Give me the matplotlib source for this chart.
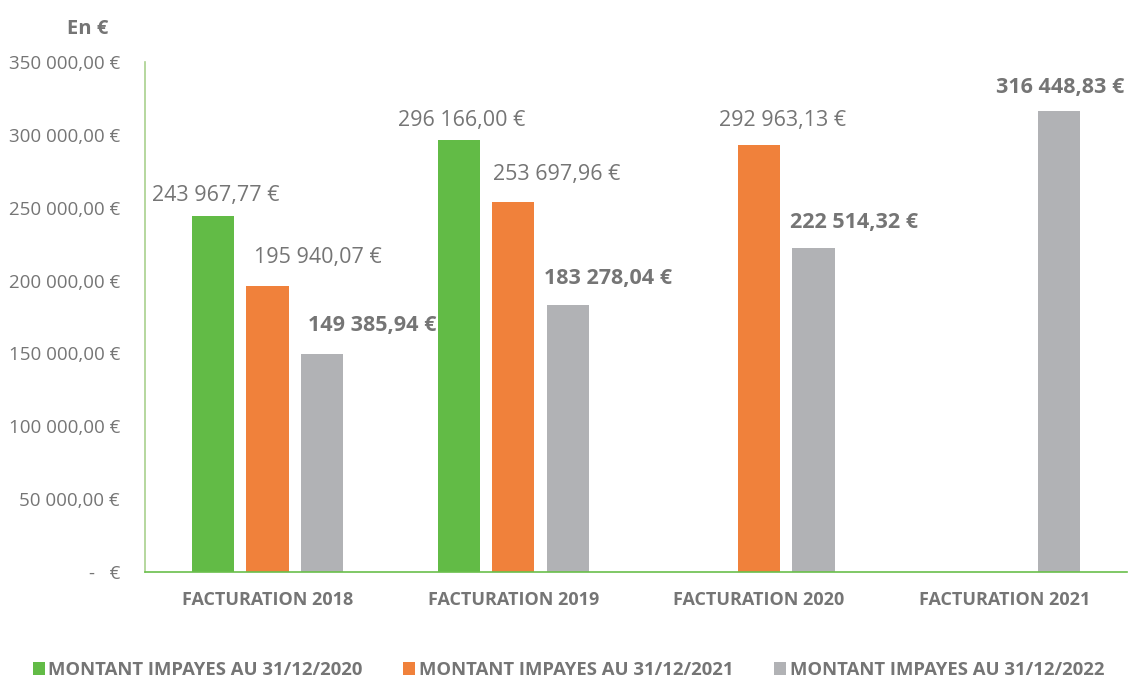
import matplotlib.pyplot as plt
import numpy as np

plt.rcParams['font.family'] = ['Open Sans', 'DejaVu Sans']

categories = ['FACTURATION 2018', 'FACTURATION 2019', 'FACTURATION 2020', 'FACTURATION 2021']
series_names = ['MONTANT IMPAYES AU 31/12/2020', 'MONTANT IMPAYES AU 31/12/2021',
                'MONTANT IMPAYES AU 31/12/2022']
impayes_2020 = [243967.77, 296166.00, None, None]
impayes_2021 = [195940.07, 253697.96, 292963.13, None]
impayes_2022 = [149385.94, 183278.04, 222514.32, 316448.83]
yticks = [0, 50000, 100000, 150000, 200000, 250000, 300000, 350000]

colors = ['#62bb46', '#f0813b', '#b1b2b5']
txt = '#757575'

# label nudges (points) and weight, per series / category
label_dx = [[2, 2, None, None], [36, 31, 17, None], [36, 29, 29, 1]]
label_dy = [[15, 14, None, None], [21, 20, 18, None], [21, 19, 18, 17]]
label_bold = [False, False, True]


def fmt(v):
    s = f'{v:,.2f}'.replace(',', ' ').replace('.', ',')
    return s + ' €'


fig = plt.figure(figsize=(11.29, 6.81), dpi=100)
ax = fig.add_axes([0.1284, 0.160, 0.8699, 0.749])

x = np.arange(len(categories))
width = 0.173
step = 0.222
all_series = [impayes_2020, impayes_2021, impayes_2022]

for i, (vals, name, c) in enumerate(zip(all_series, series_names, colors)):
    pos = x + (i - 1) * step
    h = [v if v is not None else 0 for v in vals]
    ax.bar(pos, h, width, color=c, label=name, zorder=2)
    for j, v in enumerate(vals):
        if v is None:
            continue
        ax.annotate(fmt(v), (pos[j], v), xytext=(label_dx[i][j], label_dy[i][j]),
                    textcoords='offset points', ha='center', va='center',
                    fontsize=15.5, color=txt,
                    fontweight='bold' if label_bold[i] else 'normal')

ax.set_xlim(-0.5, 3.5)
ax.set_ylim(0, 350000)
ax.set_yticks(yticks)
ax.set_yticklabels(['-   €'] + [fmt(v) for v in yticks[1:]], fontsize=13.5, color=txt)
ax.set_xticks(x)
ax.set_xticklabels(categories, fontsize=13, fontweight='bold', color=txt)
ax.tick_params(axis='both', length=0)
ax.tick_params(axis='x', pad=14)
ax.tick_params(axis='y', pad=18)

for s in ['top', 'right']:
    ax.spines[s].set_visible(False)
ax.spines['left'].set_color('#a9d18e')
ax.spines['bottom'].set_color('#6abf4b')
ax.spines['left'].set_linewidth(1.2)
ax.spines['bottom'].set_linewidth(1.2)

fig.text(0.0775, 0.958, 'En €', fontsize=14.5, fontweight='bold', color=txt,
         ha='center', va='center')

leg = fig.legend(loc='center', bbox_to_anchor=(0.5035, 0.016), ncol=3, frameon=False,
                 fontsize=13.3, handlelength=0.65, handleheight=0.65,
                 handletextpad=0.2, columnspacing=2.2, borderpad=0.2)
for t in leg.get_texts():
    t.set_color(txt)
    t.set_fontweight('bold')

fig.savefig('out.png', dpi=100)
